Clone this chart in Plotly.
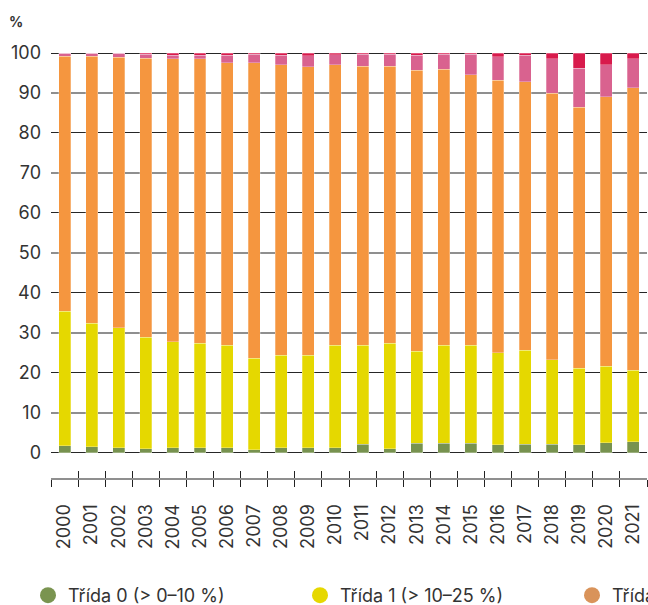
import plotly.graph_objects as go

# Share of sample trees by defoliation class, 2000–2021 (%)
years = [str(y) for y in range(2000, 2022)]

class0 = [1.7, 1.4, 1.2, 1.0, 1.2, 1.2, 1.2, 0.7, 1.2, 1.2, 1.2,
          2.1, 1.0, 2.3, 2.3, 2.3, 1.9, 2.1, 2.1, 1.9, 2.5, 2.7]
class1 = [33.7, 30.9, 30.0, 27.9, 26.5, 26.1, 25.7, 22.9, 23.2, 23.2, 25.7,
          24.8, 26.4, 23.1, 24.6, 24.6, 23.1, 23.5, 21.1, 19.2, 19.1, 17.9]
class2 = [63.8, 66.9, 67.7, 69.8, 70.8, 71.2, 70.7, 74.0, 72.7, 72.1, 70.2,
          69.8, 69.3, 70.3, 69.0, 67.7, 68.2, 67.2, 66.7, 65.3, 67.5, 70.7]
class3 = [0.7, 0.7, 1.0, 1.0, 0.9, 1.0, 1.9, 2.1, 2.3, 2.8, 2.5,
          3.0, 3.0, 3.8, 3.8, 5.1, 5.9, 6.7, 8.7, 9.8, 8.0, 7.3]
class4 = [0.1, 0.1, 0.1, 0.3, 0.6, 0.5, 0.5, 0.3, 0.6, 0.7, 0.4,
          0.3, 0.3, 0.5, 0.3, 0.3, 0.9, 0.5, 1.4, 3.8, 2.9, 1.4]

labels = ["Třída 0 (> 0–10 %)", "Třída 1 (> 10–25 %)", "Třída 2 (> 25–60 %)",
          "Třída 3 (> 60 – < 100 %)", "Třída 4 (100 %)"]
bar_colors = ["#77924f", "#e5d800", "#f5963f", "#d9628f", "#d81a4c"]
legend_colors = ["#7a9450", "#e6d800", "#d9935a", "#d7709a", "#d32a55"]

FONT = "Inter, Roboto, Arial, sans-serif"
TXT = "#333333"

W, H = 3000, 660
ML, PW = 51, 596
MT, PB = 51.3, 477.7   # top of plot area / position of the category axis line

fig = go.Figure()

for vals, name, col in zip([class0, class1, class2, class3, class4], labels, bar_colors):
    fig.add_trace(go.Bar(
        x=years, y=vals, name=name, marker_color=col,
        marker_line=dict(width=0.6, color="rgba(255,255,255,0.45)"),
        width=0.44, showlegend=False, hoverinfo="x+y+name",
    ))

# legend entries drawn as round markers
for name, col in zip(labels, legend_colors):
    fig.add_trace(go.Scatter(
        x=[None], y=[None], mode="markers", name=name,
        marker=dict(symbol="circle", size=17, color=col),
        hoverinfo="skip",
    ))

# secondary category axis carrying the upward half of the boundary ticks
fig.add_trace(go.Scatter(x=years, y=[None] * len(years), xaxis="x2", yaxis="y",
                         mode="markers", showlegend=False, hoverinfo="skip"))

yr = [-6.37, 100.5]

fig.update_layout(
    width=W, height=H,
    margin=dict(l=ML, r=W - ML - PW, t=MT, b=H - PB),
    paper_bgcolor="white", plot_bgcolor="white",
    barmode="stack", bargap=0.5,
    font=dict(family=FONT, size=18, color=TXT),
    xaxis=dict(
        type="category", categoryorder="array", categoryarray=years,
        range=[-0.5, 21.5], tickson="boundaries",
        ticks="outside", ticklen=7, tickwidth=1, tickcolor="#222222",
        showline=True, linecolor="#8f8f8f", linewidth=2,
        showgrid=False, zeroline=False,
        tickangle=-90, tickfont=dict(size=18, color=TXT),
        ticklabelstandoff=17,
    ),
    xaxis2=dict(
        type="category", categoryorder="array", categoryarray=years,
        range=[-0.5, 21.5], tickson="boundaries", overlaying="x", anchor="y",
        side="bottom", ticks="inside", ticklen=7, tickwidth=1, tickcolor="#222222",
        showticklabels=False, showline=False, showgrid=False, zeroline=False,
    ),
    yaxis=dict(
        range=yr, tickmode="array", tickvals=list(range(0, 101, 10)),
        showgrid=False, zeroline=False, showline=False, ticks="",
        tickfont=dict(size=18, color=TXT), ticklabelstandoff=9,
    ),
    yaxis2=dict(
        range=yr, overlaying="y", anchor="x", side="left",
        tick0=0, dtick=20, showgrid=True, gridcolor="#262626", gridwidth=1,
        minor=dict(tick0=0, dtick=10, showgrid=True, gridcolor="#8f8f8f", gridwidth=2),
        showticklabels=False, ticks="", zeroline=False, showline=False,
    ),
    legend=dict(
        orientation="h", xref="paper", yref="container", traceorder="normal",
        x=(28 - ML) / PW, xanchor="left", y=1 - 577 / H, yanchor="top",
        entrywidth=227, entrywidthmode="pixels",
        font=dict(size=18, color=TXT), bgcolor="rgba(0,0,0,0)",
        itemclick=False, itemdoubleclick=False,
    ),
    annotations=[dict(
        text="<b>%</b>", xref="paper", yref="paper",
        x=(7 - ML) / PW, y=(PB - 21.5) / (PB - MT),
        xanchor="left", yanchor="middle", showarrow=False,
        font=dict(size=14, color=TXT),
    )],
    showlegend=True,
)

# the empty y2 axis needs a trace so its grid is drawn
fig.add_trace(go.Scatter(x=[years[0]], y=[None], yaxis="y2", mode="markers",
                         showlegend=False, hoverinfo="skip"))

fig.write_html("out.html", post_script="document.body.style.overflow='hidden';")
